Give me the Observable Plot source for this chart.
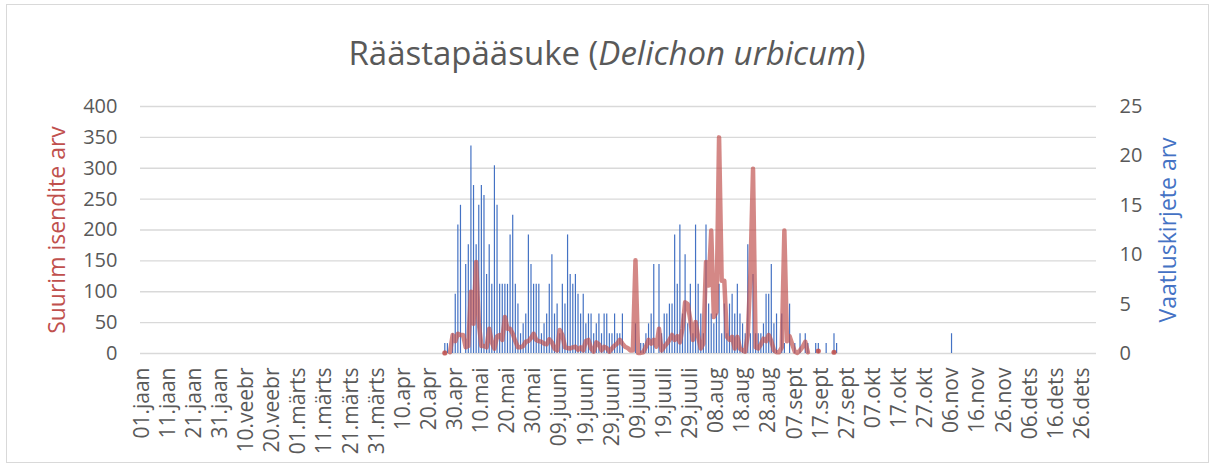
<!DOCTYPE html>
<html><head><meta charset="utf-8">
<script src="https://cdn.jsdelivr.net/npm/d3@7"></script>
<script src="https://cdn.jsdelivr.net/npm/@observablehq/plot@0.6"></script>
<style>
body{margin:0;background:#fff;}
#wrap{position:relative;width:1214px;height:466px;overflow:hidden;font-family:"Open Sans",sans-serif;background:#fff;}
#frame{position:absolute;left:6px;top:4px;width:1201px;height:457px;border:1px solid #d9d9d9;pointer-events:none;}
#title{position:absolute;left:0;top:33px;width:1214px;text-align:center;font-size:33px;line-height:40px;color:#595959;}
#chart{position:absolute;left:0;top:0;}
</style></head>
<body><div id="wrap"><div id="chart"></div><div id="title">Räästapääsuke (<i>Delichon urbicum</i>)</div><div id="frame"></div></div>
<script>
const tickLabels = ["01.jaan","11.jaan","21.jaan","31.jaan","10.veebr","20.veebr","01.märts","11.märts","21.märts","31.märts","10.apr","20.apr","30.apr","10.mai","20.mai","30.mai","09.juuni","19.juuni","29.juuni","09.juuli","19.juuli","29.juuli","08.aug","18.aug","28.aug","07.sept","17.sept","27.sept","07.okt","17.okt","27.okt","06.nov","16.nov","26.nov","06.dets","16.dets","26.dets"];
// day index (0 = 01.jaan) of the first value in the daily arrays (26.apr)
const firstDay = 116;
// Vaatluskirjete arv (records per day), from 26.apr
const records = [1,1,0,2,6,13,15,0,9,11,21,17,11,15,17,16,8,11,7,19,15,7,7,7,7,12,14,7,5,2,
3,4,12,9,7,7,7,2,3,4,7,10,4,5,2,7,5,12,8,7,8,6,4,6,3,4,4,2,3,4,
2,4,4,2,2,4,2,2,4,0,0,0,0,3,0,1,1,2,3,4,9,0,9,2,4,4,5,5,12,7,
13,4,10,3,7,2,13,7,4,2,13,5,4,3,4,7,2,5,2,5,6,4,7,4,3,2,11,2,8,2,
2,2,3,6,6,9,3,4,0,4,1,0,5,0,1,0,2,0,2,1,0,0,1,1,0,0,1,0,0,2,1];
// Suurim isendite arv (max individuals per day), from 26.apr; null = no value
const maxIndividuals = [1,null,2,30,20,32,30,30,10,12,100,48,148,50,12,12,10,40,18,8,28,30,22,59,40,40,32,20,10,10,
12,19,20,25,32,22,20,19,16,15,23,18,8,5,38,30,10,9,8,10,11,6,10,5,20,22,8,3,18,15,
5,11,9,3,8,13,16,22,16,11,9,5,5,151,1,1,2,11,22,16,22,11,40,5,11,16,22,30,22,28,
18,40,83,80,54,22,51,27,8,16,148,110,199,59,67,350,118,118,27,22,27,8,27,8,5,3,30,130,299,10,
8,15,24,20,30,20,5,2,2,10,199,20,28,15,3,1,5,11,19,2,null,null,null,4,null,null,null,null,null,2,null];
// late single record
const lateDays = [310];
const lateRecords = [2];

const ratio = 16; // 400 on the left axis = 25 on the right axis
const recRows = records.map((v, k) => ({day: firstDay + k, v}))
  .concat(lateDays.map((d, k) => ({day: d, v: lateRecords[k]})))
  .filter(d => d.v > 0);
const maxRows = maxIndividuals.map((v, k) => ({day: firstDay + k, v}));
const isolated = maxRows.filter((d, k) => d.v != null && (k === 0 || maxRows[k-1].v == null) && (k === maxRows.length-1 || maxRows[k+1].v == null));

const chart = Plot.plot({
  width: 1214, height: 466,
  marginTop: 106, marginBottom: 113, marginLeft: 140, marginRight: 118,
  x: {domain: [-0.5, 365.5]},
  y: {domain: [0, 400]},
  style: {fontFamily: "Open Sans", fontSize: "20px", color: "#595959", background: "transparent", overflow: "visible"},
  marks: [
    Plot.ruleY(d3.range(0, 401, 50), {stroke: "#d9d9d9", strokeWidth: 1.3}),
    Plot.ruleX(recRows, {x: "day", y1: 0, y2: d => d.v * ratio, stroke: "#4472c4", strokeWidth: 1.2}),
    Plot.lineY(maxRows, {x: "day", y: "v", stroke: "#c0504d", strokeOpacity: 0.68, strokeWidth: 4.5}),
    Plot.dot(isolated, {x: "day", y: "v", r: 2.6, fill: "#c0504d", fillOpacity: 0.68}),
    Plot.axisY(d3.range(0, 401, 50), {anchor: "left", tickSize: 0, tickPadding: 23, label: null, fontSize: 20}),
    Plot.axisY(d3.range(0, 401, 80), {anchor: "right", tickSize: 0, tickPadding: 23, tickFormat: d => d / ratio, label: null, fontSize: 20}),
    Plot.axisX(tickLabels.map((t, k) => k * 10), {tickSize: 0, tickPadding: 14, tickRotate: -90, tickFormat: d => tickLabels[d / 10], label: null, fontSize: 21}),
    Plot.text(["Suurim isendite arv"], {frameAnchor: "left", dx: -83, rotate: -90, textAnchor: "middle", fill: "#c0504d", fontSize: 23}),
    Plot.text(["Vaatluskirjete arv"], {frameAnchor: "right", dx: 72, rotate: -90, textAnchor: "middle", fill: "#4472c4", fontSize: 23})
  ]
});
document.getElementById("chart").appendChild(chart);
</script></body></html>
